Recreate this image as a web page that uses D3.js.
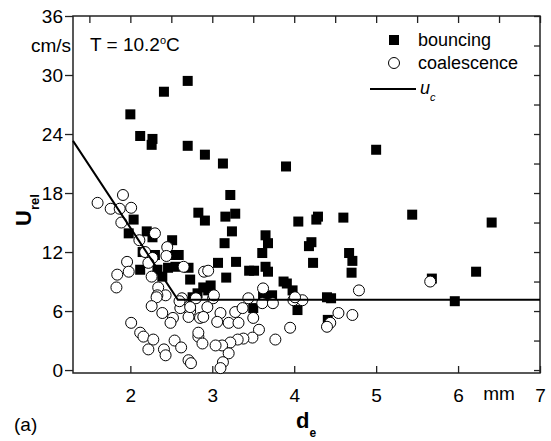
<!DOCTYPE html>
<html>
<head>
<meta charset="utf-8">
<script src="https://cdn.jsdelivr.net/npm/d3@7"></script>
<style>
  body { margin: 0; background: #fff; }
  svg { display: block; font-family: "Liberation Sans", Arial, sans-serif; }
</style>
</head>
<body>
<svg id="chart" width="551" height="441"></svg>
<script>
// bouncing drops: [d_e (mm), U_rel (cm/s)]
const bouncing = [
  [2.70, 29.4], [2.41, 28.3], [2.00, 26.0], [2.12, 23.8], [2.27, 23.5], [2.26, 22.9],
  [2.70, 22.8], [2.91, 21.9], [3.13, 21.0], [3.90, 20.7], [5.00, 22.4], [3.22, 17.8],
  [2.83, 16.0], [2.91, 15.2], [3.16, 15.6], [3.28, 15.9], [3.24, 14.1], [3.15, 12.9],
  [4.05, 15.1], [4.29, 15.6], [4.27, 15.3], [3.65, 13.7], [3.68, 12.9], [3.61, 11.9],
  [4.21, 13.0], [4.18, 12.6], [4.23, 10.9], [3.29, 11.0], [3.07, 10.9], [3.45, 10.1],
  [3.51, 10.1], [3.65, 10.5], [3.68, 10.0], [3.17, 9.4], [3.87, 9.0], [3.91, 8.8],
  [3.98, 8.1], [2.98, 8.6], [2.95, 8.1], [3.73, 7.6], [3.62, 7.6], [4.40, 7.4],
  [3.71, 7.4], [4.04, 6.1], [3.50, 6.3], [4.45, 7.3], [4.41, 5.1], [2.82, 7.8],
  [4.60, 15.5], [5.44, 15.8], [6.41, 15.0], [4.67, 11.9], [4.71, 11.1], [4.70, 9.9],
  [6.22, 10.0], [5.68, 9.3], [5.96, 7.0], [2.04, 15.3], [1.98, 13.9], [2.20, 14.1],
  [2.27, 13.5], [2.51, 13.2], [2.15, 12.0], [2.30, 11.7], [2.49, 11.7], [2.59, 11.7],
  [2.12, 10.2], [2.33, 10.2], [2.39, 9.5], [2.46, 10.4], [2.55, 10.5], [2.71, 10.4],
  [2.73, 9.2], [2.89, 8.4], [2.76, 7.4]
];

// coalescing drops
const coalescence = [
  [1.91, 17.8], [1.60, 17.0], [1.76, 16.4], [1.87, 16.4], [2.01, 16.5], [1.89, 15.0],
  [2.11, 13.2], [2.30, 13.9], [2.18, 12.0], [2.27, 11.4], [2.45, 12.5], [2.44, 11.6],
  [2.22, 10.9], [1.96, 11.0], [1.98, 10.0], [1.84, 9.7], [1.83, 8.4], [2.26, 9.5],
  [2.65, 10.5], [2.34, 8.4], [2.43, 7.6], [2.33, 7.6], [2.90, 10.0], [2.32, 7.4],
  [2.26, 6.5], [2.39, 5.8], [2.52, 5.3], [2.49, 4.8], [2.01, 4.8], [2.63, 7.3],
  [2.73, 6.0], [2.71, 5.4], [2.85, 5.3], [2.12, 3.8], [2.16, 3.4], [2.28, 3.1],
  [2.22, 2.1], [2.41, 2.1], [2.43, 1.5], [2.54, 3.0], [2.62, 2.3], [2.71, 1.0],
  [2.74, 0.7], [2.83, 3.4], [3.01, 7.3], [2.94, 6.4], [3.10, 5.8], [2.89, 5.4],
  [3.06, 4.9], [3.20, 4.8], [3.28, 5.9], [3.37, 6.3], [3.32, 4.8], [3.44, 7.3],
  [3.50, 5.3], [3.57, 4.1], [3.49, 3.3], [3.38, 3.2], [3.31, 3.1], [3.22, 2.8],
  [3.12, 2.5], [3.04, 2.5], [2.88, 2.7], [2.83, 3.8], [3.20, 1.7], [3.13, 0.8],
  [3.10, 0.2], [3.77, 3.1], [3.95, 4.3], [3.61, 6.8], [3.74, 6.8], [3.99, 7.1],
  [4.10, 7.1], [4.44, 4.8], [4.40, 4.4], [2.95, 10.1], [3.62, 8.3], [3.02, 7.6],
  [4.01, 7.4], [4.79, 8.1], [4.71, 5.6], [4.54, 5.8], [5.66, 9.0], [2.80, 7.3],
  [2.61, 6.3], [2.73, 6.4], [2.60, 7.0]
];

// critical velocity u_c
const ucLine = [[1.3, 23.3], [2.58, 7.15], [7.0, 7.15]];

const xMajor = [2, 3, 4, 5, 6, 7];
const xMinor = [1.5, 2.5, 3.5, 4.5, 5.5, 6.5];
const yMajor = [0, 6, 12, 18, 24, 30, 36];
const yMinor = [3, 9, 15, 21, 27, 33];

const svg = d3.select("#chart");
const plotL = 73, plotR = 540, plotT = 16, plotB = 373;

const x = d3.scaleLinear().domain([1.3, 7]).range([plotL, plotR]);
const y = d3.scaleLinear().domain([-0.3, 36]).range([plotB, plotT]);

const axisColor = "#222";

// bottom axis: ticks inward
const gB = svg.append("g").attr("transform", `translate(0,${plotB})`);
gB.call(d3.axisBottom(x).tickValues(xMinor).tickSize(-4).tickFormat(""));
gB.call(d3.axisBottom(x).tickValues(xMajor).tickSize(-7).tickPadding(16)
  .tickFormat(d => d));
// top axis
const gT = svg.append("g").attr("transform", `translate(0,${plotT})`);
gT.call(d3.axisTop(x).tickValues(xMajor.concat(xMinor)).tickSize(-7).tickFormat(""));
// left axis: ticks outward
const gL = svg.append("g").attr("transform", `translate(${plotL},0)`);
gL.call(d3.axisLeft(y).tickValues(yMinor).tickSize(5).tickFormat(""));
gL.call(d3.axisLeft(y).tickValues(yMajor).tickSize(8).tickPadding(2).tickFormat(d => d));
// right axis
const gR = svg.append("g").attr("transform", `translate(${plotR},0)`);
gR.call(d3.axisRight(y).tickValues(yMajor.concat(yMinor)).tickSize(-6).tickFormat(""));

svg.selectAll(".domain").remove();
svg.selectAll(".tick line").attr("stroke", axisColor).attr("stroke-width", 1.3);
svg.selectAll(".tick text").attr("fill", "#000").style("font-size", "19px")
  .style("font-family", "'Liberation Sans', Arial, sans-serif");
gL.selectAll(".tick text").attr("dy", "0.36em");

// frame
svg.append("rect")
  .attr("x", plotL).attr("y", plotT)
  .attr("width", plotR - plotL).attr("height", plotB - plotT)
  .attr("fill", "none").attr("stroke", axisColor).attr("stroke-width", 1.5);

// unit labels in place of minor tick labels
svg.append("text").attr("x", plotL - 2).attr("y", y(33)).attr("dy", "0.36em")
  .attr("text-anchor", "end").style("font-size", "19px").text("cm/s");
svg.append("text").attr("x", x(6.5)).attr("y", plotB + 27)
  .attr("text-anchor", "middle").style("font-size", "19px").text("mm");

// data
svg.append("g").selectAll("rect").data(bouncing).join("rect")
  .attr("x", d => x(d[0]) - 5).attr("y", d => y(d[1]) - 5)
  .attr("width", 10).attr("height", 10).attr("fill", "#000");

svg.append("g").selectAll("circle").data(coalescence).join("circle")
  .attr("cx", d => x(d[0])).attr("cy", d => y(d[1])).attr("r", 5.5)
  .attr("fill", "#fff").attr("stroke", "#000").attr("stroke-width", 1);

svg.append("path").datum(ucLine)
  .attr("d", d3.line().x(d => x(d[0])).y(d => y(d[1])))
  .attr("fill", "none").attr("stroke", "#000").attr("stroke-width", 2);

// temperature annotation
const tT = svg.append("text").attr("x", 90).attr("y", 51).style("font-size", "19px");
tT.append("tspan").text("T = 10.2");
tT.append("tspan").attr("dy", -7).style("font-size", "11px").text("o");
tT.append("tspan").attr("dy", 7).text("C");

// legend
const lg = svg.append("g");
lg.append("rect").attr("x", 389).attr("y", 35).attr("width", 10).attr("height", 10).attr("fill", "#000");
lg.append("circle").attr("cx", 394).attr("cy", 63).attr("r", 5.5)
  .attr("fill", "#fff").attr("stroke", "#000");
lg.append("line").attr("x1", 370).attr("x2", 416).attr("y1", 89).attr("y2", 89)
  .attr("stroke", "#000").attr("stroke-width", 2);
lg.append("text").attr("x", 418).attr("y", 46).style("font-size", "18px").text("bouncing");
lg.append("text").attr("x", 418).attr("y", 69).style("font-size", "18px").text("coalescence");
const uc = lg.append("text").attr("x", 420).attr("y", 94).style("font-size", "18px");
uc.append("tspan").style("font-style", "italic").text("u");
uc.append("tspan").attr("dy", 7).style("font-style", "italic").style("font-size", "11px").text("c");

// axis titles
const xt = svg.append("text").attr("x", 296).attr("y", 428)
  .style("font-size", "22px").style("font-weight", "bold");
xt.append("tspan").text("d");
xt.append("tspan").attr("dy", 9).style("font-size", "12px").text("e");

const yt = svg.append("text").attr("transform", "translate(31,226) rotate(-90)")
  .style("font-size", "22px").style("font-weight", "bold");
yt.append("tspan").text("U");
yt.append("tspan").attr("dy", 8).style("font-size", "13px").text("rel");

svg.append("text").attr("x", 14).attr("y", 431).style("font-size", "19px").text("(a)");
</script>
</body>
</html>
